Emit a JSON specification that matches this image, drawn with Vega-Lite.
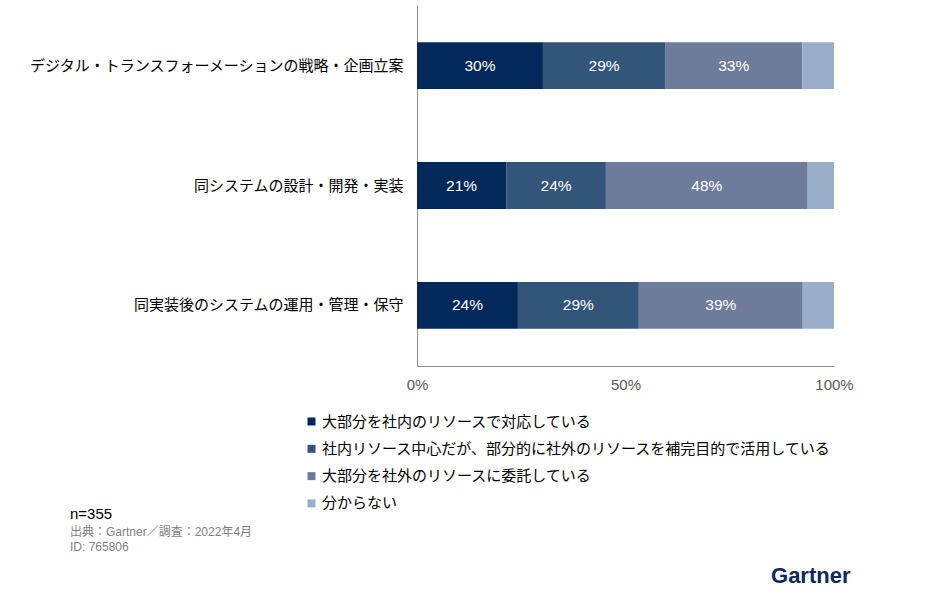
{
  "$schema": "https://vega.github.io/schema/vega-lite/v6.json",
  "width": 417,
  "height": 361,
  "autosize": {"type": "none"},
  "padding": {"left": 417, "top": 5, "right": 97, "bottom": 234},
  "background": "white",
  "config": {
    "font": "Liberation Sans, Noto Sans CJK JP",
    "view": {"stroke": null}
  },
  "title": {
    "text": "n=355",
    "subtitle": ["出典：Gartner／調査：2022年4月", "ID: 765806"],
    "orient": "bottom",
    "anchor": "start",
    "frame": "group",
    "dx": -347,
    "offset": -79,
    "fontSize": 15,
    "fontWeight": 100,
    "color": "#000000",
    "subtitleFontSize": 12,
    "subtitleColor": "#7f7f7f",
    "subtitlePadding": 5,
    "subtitleLineHeight": 15
  },
  "data": {
    "values": [
      {"category": "デジタル・トランスフォーメーションの戦略・企画立案", "segment": "大部分を社内のリソースで対応している", "order": 1, "value": 30.2, "label": "30%"},
      {"category": "デジタル・トランスフォーメーションの戦略・企画立案", "segment": "社内リソース中心だが、部分的に社外のリソースを補完目的で活用している", "order": 2, "value": 29.3, "label": "29%"},
      {"category": "デジタル・トランスフォーメーションの戦略・企画立案", "segment": "大部分を社外のリソースに委託している", "order": 3, "value": 32.9, "label": "33%"},
      {"category": "デジタル・トランスフォーメーションの戦略・企画立案", "segment": "分からない", "order": 4, "value": 7.6, "label": ""},
      {"category": "同システムの設計・開発・実装", "segment": "大部分を社内のリソースで対応している", "order": 1, "value": 21.4, "label": "21%"},
      {"category": "同システムの設計・開発・実装", "segment": "社内リソース中心だが、部分的に社外のリソースを補完目的で活用している", "order": 2, "value": 23.9, "label": "24%"},
      {"category": "同システムの設計・開発・実装", "segment": "大部分を社外のリソースに委託している", "order": 3, "value": 48.4, "label": "48%"},
      {"category": "同システムの設計・開発・実装", "segment": "分からない", "order": 4, "value": 6.3, "label": ""},
      {"category": "同実装後のシステムの運用・管理・保守", "segment": "大部分を社内のリソースで対応している", "order": 1, "value": 24.2, "label": "24%"},
      {"category": "同実装後のシステムの運用・管理・保守", "segment": "社内リソース中心だが、部分的に社外のリソースを補完目的で活用している", "order": 2, "value": 29.0, "label": "29%"},
      {"category": "同実装後のシステムの運用・管理・保守", "segment": "大部分を社外のリソースに委託している", "order": 3, "value": 39.3, "label": "39%"},
      {"category": "同実装後のシステムの運用・管理・保守", "segment": "分からない", "order": 4, "value": 7.5, "label": ""}
    ]
  },
  "transform": [
    {"stack": "value", "groupby": ["category"], "sort": [{"field": "order", "order": "ascending"}], "as": ["v0", "v1"]},
    {"calculate": "(datum.v0 + datum.v1) / 2", "as": "mid"}
  ],
  "encoding": {
    "y": {
      "field": "category",
      "type": "nominal",
      "sort": ["デジタル・トランスフォーメーションの戦略・企画立案", "同システムの設計・開発・実装", "同実装後のシステムの運用・管理・保守"],
      "scale": {"paddingInner": 0.61, "paddingOuter": 0.31},
      "axis": {
        "title": null,
        "ticks": false,
        "domain": true,
        "domainColor": "#8c8c8c",
        "labelFontSize": 15,
        "labelColor": "#000000",
        "labelPadding": 14,
        "labelLimit": 400
      }
    }
  },
  "layer": [
    {
      "mark": {"type": "bar"},
      "encoding": {
        "x": {
          "field": "v0",
          "type": "quantitative",
          "scale": {"domain": [0, 100]},
          "axis": {
            "values": [0, 50, 100],
            "labelExpr": "datum.value + '%'",
            "labelFlush": false,
            "grid": false,
            "ticks": false,
            "domainColor": "#8c8c8c",
            "labelFontSize": 15,
            "labelColor": "#595959",
            "labelPadding": 11,
            "title": "Gartner",
            "titleFontSize": 22,
            "titleFontWeight": "bold",
            "titleColor": "#0b2a5b",
            "titleAlign": "right",
            "titleBaseline": "alphabetic",
            "titleX": 433,
            "titleY": 216
          }
        },
        "x2": {"field": "v1"},
        "color": {
          "field": "segment",
          "type": "nominal",
          "sort": ["大部分を社内のリソースで対応している", "社内リソース中心だが、部分的に社外のリソースを補完目的で活用している", "大部分を社外のリソースに委託している", "分からない"],
          "scale": {
            "domain": ["大部分を社内のリソースで対応している", "社内リソース中心だが、部分的に社外のリソースを補完目的で活用している", "大部分を社外のリソースに委託している", "分からない"],
            "range": ["#03285a", "#34557a", "#6e7b9b", "#9aaeca"]
          },
          "legend": {
            "title": null,
            "orient": "none",
            "legendX": -113,
            "legendY": 409,
            "symbolType": "square",
            "symbolSize": 64,
            "symbolStrokeWidth": 0,
            "labelFontSize": 15,
            "labelColor": "#000000",
            "labelOffset": 3,
            "labelLimit": 600,
            "rowPadding": 11.3
          }
        }
      }
    },
    {
      "mark": {"type": "text", "color": "white", "fontSize": 15.5},
      "encoding": {
        "x": {"field": "mid", "type": "quantitative"},
        "text": {"field": "label"}
      }
    }
  ]
}
